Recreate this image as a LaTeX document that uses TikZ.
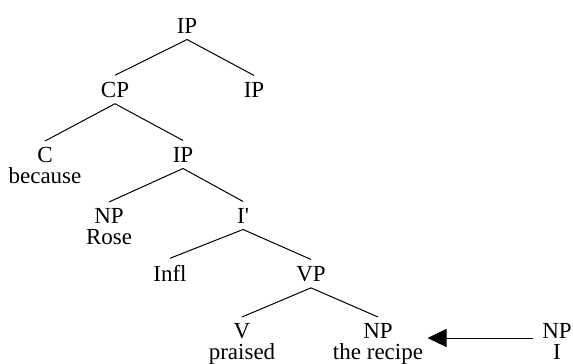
\documentclass[tikz,border=0pt]{standalone}
\usepackage{fontspec}
\setmainfont{Liberation Serif}
\usetikzlibrary{arrows.meta}
\begin{document}
\begin{tikzpicture}[x=0.5pt,y=-0.5pt,line width=0.5pt,
  cat/.style={inner xsep=2pt,inner ysep=3pt,anchor=base,align=center,
    font=\fontsize{11.5}{10.5}\selectfont},
  leaf/.style={cat,anchor=north}]
\useasboundingbox (0,0) rectangle (573,364);
% upper part of the tree
\node[cat] (ip) at (187,33) {IP};
\node[cat] (cp) at (115,97) {CP};
\node[cat] (ipr) at (254,97) {IP};
\node[leaf] (c) at (45,141) {C\\because};
\node[cat] (ipc) at (183,162) {IP};
\draw (ip.south) -- (cp.north);
\draw (ip.south) -- (ipr.north);
\draw (cp.south) -- (c.north);
\draw (cp.south) -- (ipc.north);
% lower IP
\node[leaf] (subj) at (109,202) {NP\\Rose};
\node[cat] (ibar) at (243,223) {I\textquotesingle};
\node[cat] (infl) at (170,281) {Infl};
\node[cat] (vp) at (311,281) {VP};
\draw (ipc.south) -- (subj.north);
\draw (ipc.south) -- (ibar.north);
\draw (ibar.south) -- (infl.north);
\draw (ibar.south) -- (vp.north);
% VP and the moved NP
\node[leaf] (v) at (242,317) {V\\praised};
\node[leaf] (obj) at (378,317) {NP\\the recipe};
\node[leaf] (np) at (557,317) {NP\\I};
\draw (vp.south) -- (v.north);
\draw (vp.south) -- (obj.north);
\draw[-{Triangle[length=9.5pt,width=9pt]},shorten <=2.5pt]
  ([yshift=-10.5pt]np.north west) -- ([yshift=-10.5pt]obj.north east);
\end{tikzpicture}
\end{document}
